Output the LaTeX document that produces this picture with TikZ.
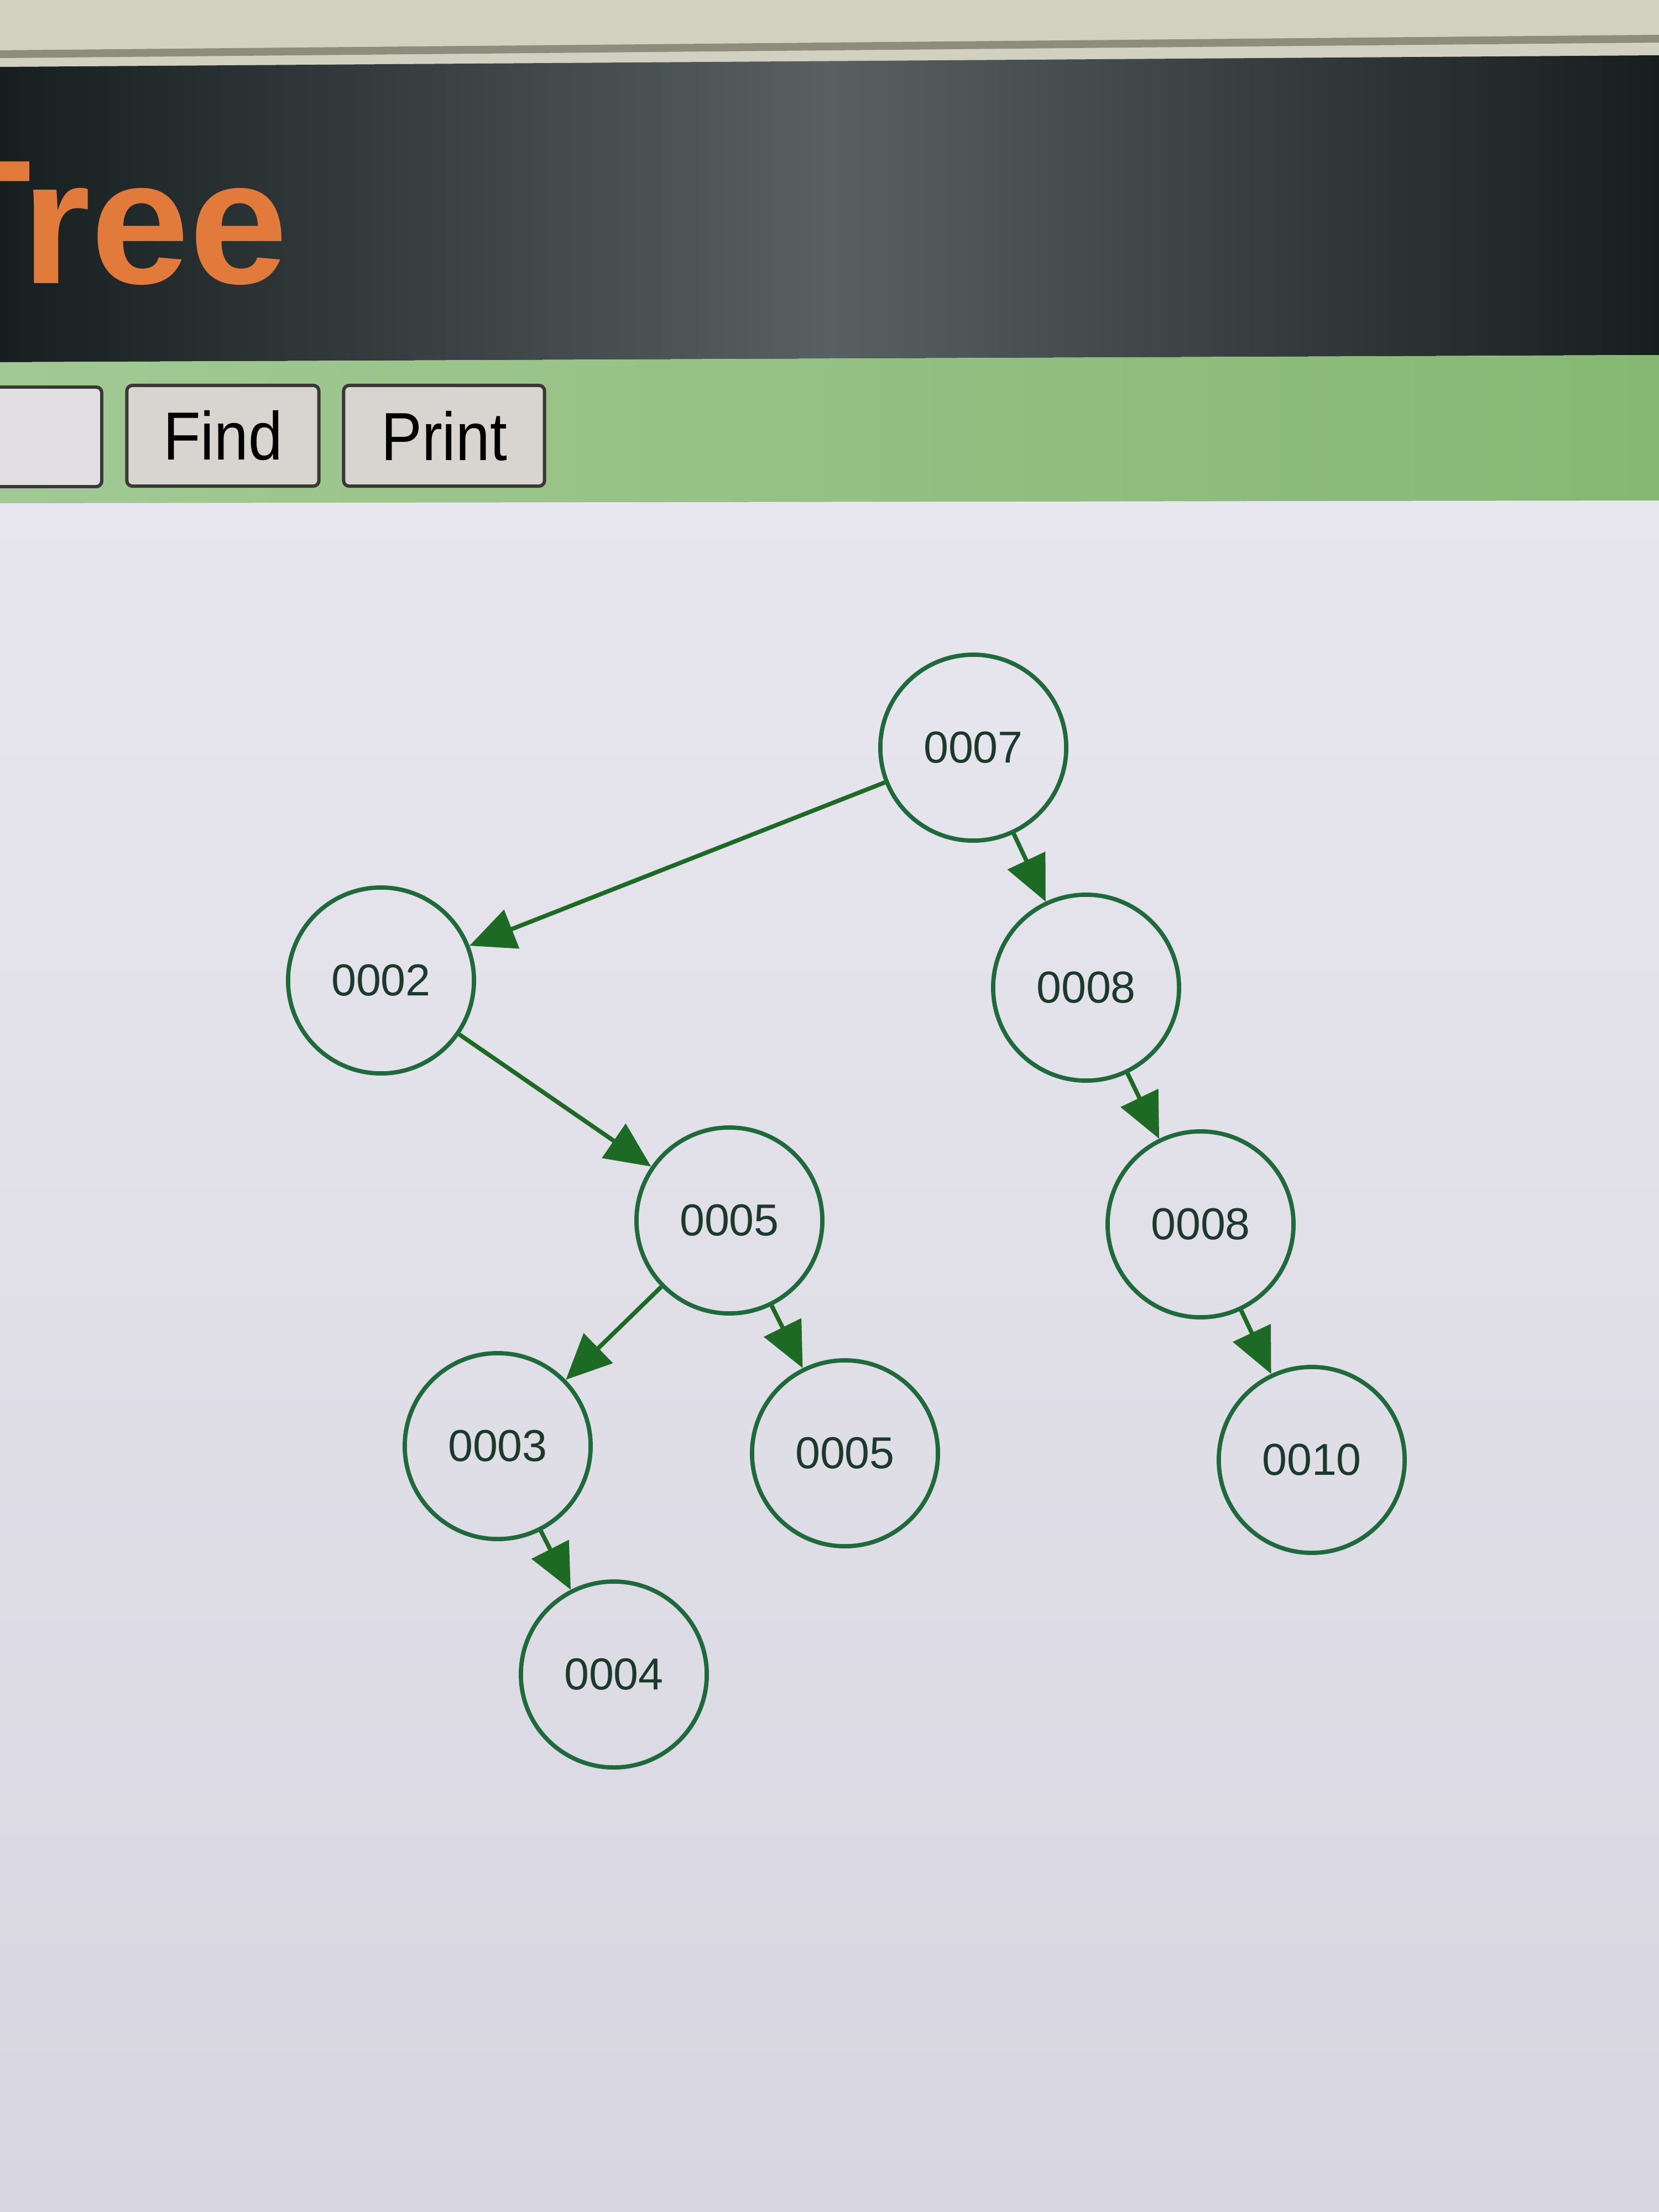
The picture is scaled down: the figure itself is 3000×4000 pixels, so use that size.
\documentclass[tikz,border=0pt]{standalone}
\usepackage{fontspec}
\setmainfont{Liberation Sans}
\usetikzlibrary{arrows.meta}
\definecolor{beige}{HTML}{D2D0C0}
\definecolor{beigeline}{HTML}{8E8C7C}
\definecolor{dk}{HTML}{161E20}
\definecolor{dkmid}{HTML}{586062}
\definecolor{greenL}{HTML}{A2C994}
\definecolor{greenR}{HTML}{86B873}
\definecolor{bgtop}{HTML}{E8E6EE}
\definecolor{bgbot}{HTML}{D8D6E0}
\definecolor{titleorange}{HTML}{E27A3C}
\definecolor{btnfill}{HTML}{D8D4D0}
\definecolor{inputfill}{HTML}{E2DFE2}
\definecolor{btnline}{HTML}{3A3836}
\definecolor{nodegreen}{HTML}{1E6A3A}
\definecolor{nodetext}{HTML}{1C3A2A}
\definecolor{edgegreen}{HTML}{1C6A24}
\begin{document}
\begin{tikzpicture}[x=0.01cm,y=-0.01cm,
  tnode/.style={circle, draw=nodegreen, line width=2.2pt, minimum size=3.36cm, inner sep=0pt,
    font=\fontsize{23}{23}\selectfont, text=nodetext},
  edge/.style={draw=edgegreen, fill=edgegreen, line width=2.2pt,
    -{Triangle[length=0.82cm,width=0.74cm]}},
  button/.style={draw=btnline, fill=btnfill, line width=1.7pt, rounded corners=0.1cm,
    minimum height=1.82cm, inner sep=0pt, font=\fontsize{35}{35}\selectfont, text=black}]
\useasboundingbox (0,0) rectangle (3000,4000);
\clip (0,0) rectangle (3000,4000);
% page background
\shade[top color=bgtop, bottom color=bgbot] (0,880) rectangle (3000,4000);
% top beige strip and ledge line
\fill[beige] (0,0) rectangle (3000,140);
\draw[beigeline, line width=4pt] (0,98) -- (3000,70);
% dark header band
\shade[left color=dk, right color=dk, middle color=dkmid]
  (0,121) -- (3000,100) -- (3000,642) -- (0,655) -- cycle;
% green toolbar
\shade[left color=greenL, right color=greenR]
  (0,655) -- (3000,642) -- (3000,905) -- (0,910) -- cycle;
% title
\node[font=\bfseries\fontsize{91}{91}\selectfont, text=titleorange, anchor=base west, inner sep=0pt]
  (title) at (-139,512) {Tree};
% input box and buttons
\draw[btnline, fill=inputfill, line width=1.7pt, rounded corners=0.1cm]
  (-40,700) rectangle (184,880);
\node[button, minimum width=3.47cm] (find) at (403,788) {\scalebox{0.9}[1]{Find}};
\node[button, minimum width=3.63cm] (print) at (803,788) {\scalebox{0.9}[1]{Print}};
% tree nodes
\node[tnode] (n7)  at (1760,1352) {0007};
\node[tnode] (n2)  at (689,1773)  {0002};
\node[tnode] (n8a) at (1964,1786) {0008};
\node[tnode] (n5a) at (1319,2207) {0005};
\node[tnode] (n8b) at (2171,2214) {0008};
\node[tnode] (n3)  at (900,2615)  {0003};
\node[tnode] (n5b) at (1528,2628) {0005};
\node[tnode] (n10) at (2372,2640) {0010};
\node[tnode] (n4)  at (1110,3028) {0004};
% edges
\draw[edge] (n7) -- (n2);
\draw[edge] (n7) -- (n8a);
\draw[edge] (n2) -- (n5a);
\draw[edge] (n5a) -- (n3);
\draw[edge] (n5a) -- (n5b);
\draw[edge] (n8a) -- (n8b);
\draw[edge] (n8b) -- (n10);
\draw[edge] (n3) -- (n4);
\end{tikzpicture}
\end{document}
